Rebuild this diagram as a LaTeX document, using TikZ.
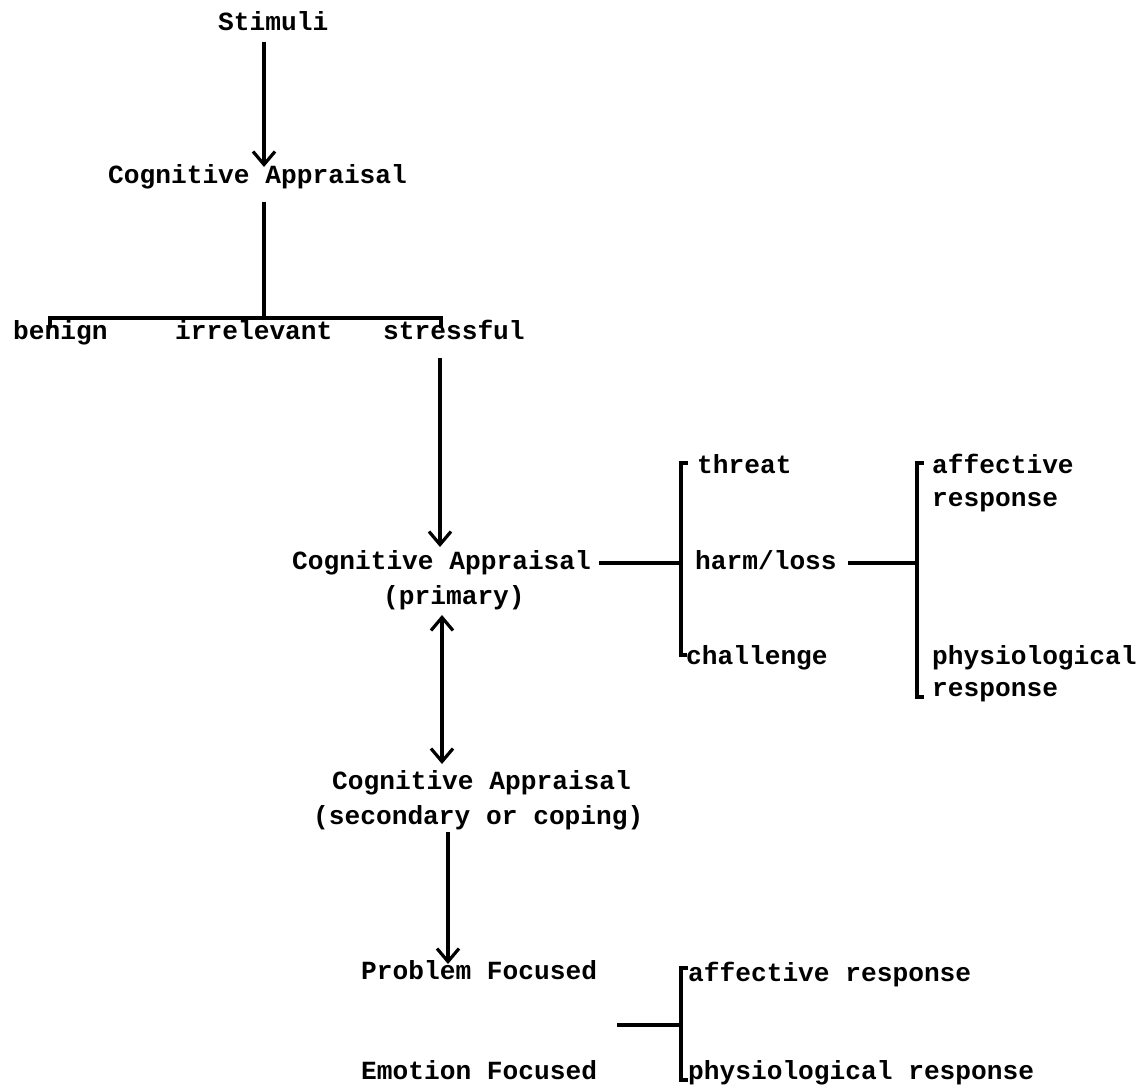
\documentclass[tikz,border=0pt]{standalone}
\usepackage{fontspec}
\setmonofont{Liberation Mono}
\usetikzlibrary{arrows.meta}
\tikzset{
  lbl/.style={inner sep=0pt, anchor=base west, font=\fontsize{26.2}{30}\selectfont\ttfamily\bfseries},
  conn/.style={line width=3.4pt, line cap=butt},
  tip/.tip={Straight Barb[length=13pt,width=22pt,line width=3.2pt]},
  arr/.style={conn, -tip},
  darr/.style={conn, tip-tip}
}
\begin{document}
\begin{tikzpicture}[x=1pt,y=-1pt]
\useasboundingbox (0,0) rectangle (1143,1087);
% nodes
\node[lbl] (stim) at (218,30) {Stimuli};
\node[lbl] (ca1) at (108,183) {Cognitive Appraisal};
\node[lbl] (benign) at (13,339) {benign};
\node[lbl] (irrel) at (175,339) {irrelevant};
\node[lbl] (stress) at (383,339) {stressful};
\node[lbl] (ca2) at (292,569) {Cognitive Appraisal};
\node[lbl] (prim) at (383,604) {(primary)};
\node[lbl] (threat) at (697,473) {threat};
\node[lbl] (harm) at (695,569) {harm/loss};
\node[lbl] (chall) at (686,664) {challenge};
\node[lbl] (aff1) at (932,473) {affective};
\node[lbl] (resp1) at (932,506) {response};
\node[lbl] (phys1) at (932,664) {physiological};
\node[lbl] (resp2) at (932,696) {response};
\node[lbl] (ca3) at (332,789) {Cognitive Appraisal};
\node[lbl] (sec) at (313,824) {(secondary or coping)};
\node[lbl] (prob) at (361,979) {Problem Focused};
\node[lbl] (emo) at (361,1079) {Emotion Focused};
\node[lbl] (aff2) at (688,981) {affective response};
\node[lbl] (phys2) at (688,1079) {physiological response};
% connector coordinates
\coordinate (a1s) at (264,42);
\coordinate (a1e) at (264,167);
\coordinate (l1s) at (264,202);
\coordinate (br1m) at (264,318);
\coordinate (br1l) at (50,318);
\coordinate (br1r) at (441,318);
\coordinate (a2s) at (440,358);
\coordinate (a2e) at (440,547);
\coordinate (h1s) at (599,563);
\coordinate (br2m) at (681,563);
\coordinate (br2t) at (681,463);
\coordinate (br2b) at (681,655);
\coordinate (h2s) at (848,563);
\coordinate (br3m) at (917,563);
\coordinate (br3t) at (917,463);
\coordinate (br3b) at (917,697);
\coordinate (da1) at (442,615);
\coordinate (da2) at (442,764);
\coordinate (a3s) at (448,832);
\coordinate (a3e) at (448,964);
\coordinate (h3s) at (617,1025);
\coordinate (br4m) at (681,1025);
\coordinate (br4t) at (681,968);
\coordinate (br4b) at (681,1080);
% connectors
\draw[arr] (a1s) -- (a1e);
\draw[conn] (l1s) -- (br1m);
\draw[conn] ([yshift=-10pt]br1l) -- (br1l) -- (br1r) -- ([yshift=-10pt]br1r);
\draw[arr] (a2s) -- (a2e);
\draw[conn] (h1s) -- (br2m);
\draw[conn] ([xshift=7pt]br2t) -- (br2t) -- (br2b) -- ([xshift=6pt]br2b);
\draw[conn] (h2s) -- (br3m);
\draw[conn] ([xshift=7pt]br3t) -- (br3t) -- (br3b) -- ([xshift=7pt]br3b);
\draw[darr] (da1) -- (da2);
\draw[arr] (a3s) -- (a3e);
\draw[conn] (h3s) -- (br4m);
\draw[conn] ([xshift=7pt]br4t) -- (br4t) -- (br4b) -- ([xshift=7pt]br4b);
\end{tikzpicture}
\end{document}
